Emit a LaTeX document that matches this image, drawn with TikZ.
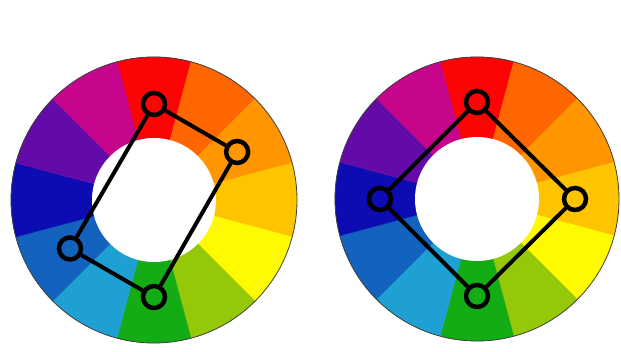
\documentclass[tikz,border=0pt]{standalone}
\definecolor{cR}{RGB}{252,4,4}
\definecolor{cRO}{RGB}{255,102,0}
\definecolor{cO}{RGB}{255,150,0}
\definecolor{cYO}{RGB}{255,196,0}
\definecolor{cY}{RGB}{255,250,0}
\definecolor{cYG}{RGB}{150,200,10}
\definecolor{cG}{RGB}{20,172,20}
\definecolor{cBG}{RGB}{30,160,210}
\definecolor{cB}{RGB}{18,98,190}
\definecolor{cBV}{RGB}{12,12,178}
\definecolor{cV}{RGB}{100,10,168}
\definecolor{cRV}{RGB}{198,4,140}
\tikzset{
  mk/.style={circle, draw=black, line width=4.5pt, minimum size=22pt, inner sep=0pt},
  cn/.style={draw=black, line width=4pt, line join=round}
}
\newcommand\cwheel[2]{%
  \foreach \c [count=\i from 0] in {cR,cRO,cO,cYO,cY,cYG,cG,cBG,cB,cBV,cV,cRV} {
    \pgfmathsetmacro\a{75-30*\i}
    \filldraw[\c, line width=0.3pt] (#1) -- ++(\a:#2) arc[start angle=\a, delta angle=30, radius=#2] -- cycle;
  }
  \fill[white] (#1) circle[radius=62pt];
  \draw[black!75, line width=0.8pt] (#1) circle[radius=#2];
}
\begin{document}
\begin{tikzpicture}[x=1pt,y=1pt]
\useasboundingbox (0,0) rectangle (621,352);
\fill[white] (0,0) rectangle (621,352);
\coordinate (L) at (154,152);
\coordinate (R) at (477,153);
\cwheel{L}{143pt}
\cwheel{R}{142pt}
% left wheel: rectangle
\node[mk] (l1) at ([shift={(90:96pt)}]L) {};
\node[mk] (l2) at ([shift={(30:96pt)}]L) {};
\node[mk] (l3) at ([shift={(270:97pt)}]L) {};
\node[mk] (l4) at ([shift={(210:97pt)}]L) {};
\draw[cn] (l1) -- (l2);
\draw[cn] (l2) -- (l3);
\draw[cn] (l3) -- (l4);
\draw[cn] (l4) -- (l1);
% right wheel: square
\node[mk] (r1) at ([shift={(90:97pt)}]R) {};
\node[mk] (r2) at ([shift={(0:98pt)}]R) {};
\node[mk] (r3) at ([shift={(270:97pt)}]R) {};
\node[mk] (r4) at ([shift={(180:97pt)}]R) {};
\draw[cn] (r1) -- (r2);
\draw[cn] (r2) -- (r3);
\draw[cn] (r3) -- (r4);
\draw[cn] (r4) -- (r1);
\end{tikzpicture}
\end{document}
